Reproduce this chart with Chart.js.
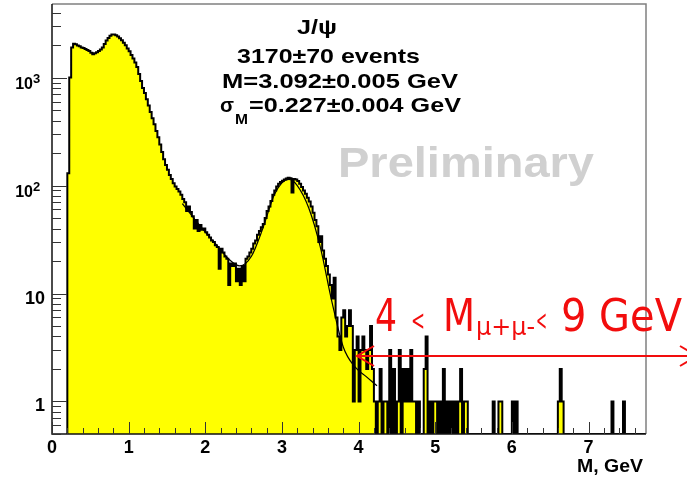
<!DOCTYPE html>
<html>
<head>
<meta charset="utf-8">
<script src="https://cdn.jsdelivr.net/npm/chart.js@4.4.0/dist/chart.umd.min.js"></script>
<style>
  html, body { margin: 0; padding: 0; background: #fff; }
  #wrap { width: 687px; height: 480px; position: relative; }
</style>
</head>
<body>
<div id="wrap"><canvas id="massChart"></canvas></div>
<script>
// binning of the dimuon mass histogram, GeV
const BIN_LO = 0.2;
const BIN_W = 0.025;
const X_MIN = 0, X_MAX = 7.75;
const Y_MIN = 0.5, Y_MAX = 4800;

// entries per bin (20 bins = 0.5 GeV per row)
const counts_0p2 = [130, 1000, 1900, 2060, 2040, 1980, 1950, 1900, 1880, 1840, 1800, 1760, 1700, 1640, 1680, 1720, 1760, 1820, 1900, 2050];
const counts_0p7 = [2200, 2330, 2440, 2500, 2500, 2470, 2400, 2310, 2220, 2100, 1990, 1860, 1750, 1620, 1500, 1380, 1250, 1080, 930, 800];
const counts_1p2 = [720, 630, 550, 480, 420, 370, 320, 280, 240, 205, 175, 155, 140, 125, 115, 105, 98, 93, 88, 82];
const counts_1p7 = [75, 70, 58, 64, 57, 52, 40, 48, 38, 43, 39, 40, 37, 35, 33, 31, 30, 28, 27, 17];
const counts_2p2 = [26, 24, 22, 21, 12, 19, 18, 19, 13, 17, 12, 18, 13, 21, 22, 24, 26, 29, 31, 35];
const counts_2p7 = [38, 41, 44, 50, 58, 64, 72, 82, 90, 98, 104, 108, 111, 114, 116, 118, 117, 86, 115, 114];
const counts_3p2 = [110, 104, 97, 90, 84, 77, 71, 64, 56, 48, 42, 30, 34, 25, 21, 18, 15, 12, 9, 14];
const counts_3p7 = [6, 4, 3, 6, 7, 4, 5, 7, 5, 1, 3, 4, 1, 3, 4, 3, 2, 3, 5, 2];
const counts_4p2 = [1, 0, 1, 2, 0, 1, 1, 0, 3, 0, 2, 0, 1, 3, 0, 2, 1, 2, 1, 3];
const counts_4p7 = [1, 1, 0, 1, 0, 0, 2, 4, 0, 1, 0, 1, 1, 0, 1, 0, 2, 0, 1, 0];
const counts_5p2 = [1, 0, 1, 0, 1, 2, 0, 1, 1, 0, 0, 0, 0, 0, 0, 0, 0, 0, 0, 0];
const counts_5p7 = [0, 0, 1, 0, 0, 1, 1, 0, 0, 0, 0, 0, 1, 0, 1, 0, 0, 0, 0, 0];
const counts_6p2 = [0, 0, 0, 0, 0, 0, 0, 0, 0, 0, 0, 0, 0, 0, 0, 0, 1, 2, 1, 0];
const counts_6p7 = [0, 0, 0, 0, 0, 0, 0, 0, 0, 0, 0, 0, 0, 0, 0, 0, 0, 0, 0, 0];
const counts_7p2 = [0, 0, 0, 0, 1, 0, 0, 0, 0, 0, 1, 0, 0, 0, 0, 0, 0, 0, 0, 0, 0, 0];

const counts = [].concat(counts_0p2, counts_0p7, counts_1p2, counts_1p7, counts_2p2,
    counts_2p7, counts_3p2, counts_3p7, counts_4p2, counts_4p7, counts_5p2,
    counts_5p7, counts_6p2, counts_6p7, counts_7p2);

// fitted curve (gaussian + background), sampled from the plot
const fitMass = [1.7, 1.85, 2.0, 2.15, 2.3, 2.45, 2.6, 2.75, 2.9, 3.0, 3.09, 3.2, 3.35, 3.5, 3.65, 3.8, 3.95, 4.1, 4.24];
const fitValue = [68, 50, 37, 28, 21, 18, 22, 40, 82, 106, 114, 100, 62, 27, 8.5, 3.2, 2.1, 1.7, 1.4];

// axis labels
const xTickValues = [0, 1, 2, 3, 4, 5, 6, 7];
const xTickLabels = ['0', '1', '2', '3', '4', '5', '6', '7'];
const yTickValues = [1, 10, 100, 1000];
const yTickBase = ['1', '10', '10', '10'];
const yTickExp = ['', '', '2', '3'];

const histPoints = [{ x: BIN_LO, y: Y_MIN }];
counts.forEach((c, i) => {
    histPoints.push({ x: BIN_LO + i * BIN_W, y: c > 0 ? c : Y_MIN });
});
histPoints.push({ x: BIN_LO + counts.length * BIN_W, y: Y_MIN });

const fitPoints = fitMass.map((m, i) => ({ x: m, y: fitValue[i] }));

const FONT = '"Liberation Sans", Arial, Helvetica, sans-serif';
const RED = '#f20d0d';

// draw text squeezed/stretched to a given width
function fitText(ctx, text, x, y, font, width) {
    ctx.font = font;
    const w = ctx.measureText(text).width;
    ctx.save();
    ctx.translate(x, y);
    ctx.scale(width / w, 1);
    ctx.textAlign = 'left';
    ctx.fillText(text, 0, 0);
    ctx.restore();
}

// ROOT style frame, inward ticks, labels and annotations
const rootFrame = {
    id: 'rootFrame',
    afterDraw(chart) {
        const { ctx, chartArea: a } = chart;
        const xs = chart.scales.x, ys = chart.scales.y;
        ctx.save();

        // frame
        ctx.lineWidth = 1.5;
        ctx.strokeStyle = '#808080';
        ctx.beginPath();
        ctx.moveTo(a.left, a.top);
        ctx.lineTo(a.right, a.top);
        ctx.lineTo(a.right, a.bottom);
        ctx.stroke();
        ctx.strokeStyle = '#111';
        ctx.beginPath();
        ctx.moveTo(a.left, a.top);
        ctx.lineTo(a.left, a.bottom);
        ctx.lineTo(a.right, a.bottom);
        ctx.stroke();

        // x ticks every 0.2 GeV
        ctx.lineWidth = 1;
        ctx.strokeStyle = '#333';
        ctx.beginPath();
        for (let k = 0; k * 0.2 <= X_MAX + 1e-9; k++) {
            const px = Math.round(xs.getPixelForValue(k * 0.2)) + 0.5;
            const len = k % 5 === 0 ? 12 : 6;
            ctx.moveTo(px, a.bottom);
            ctx.lineTo(px, a.bottom - len);
        }
        // y ticks, log
        for (let d = -1; d <= 3; d++) {
            for (let m = 1; m <= 9; m++) {
                const v = m * Math.pow(10, d);
                if (v < Y_MIN || v > Y_MAX) continue;
                const py = Math.round(ys.getPixelForValue(v)) + 0.5;
                const len = m === 1 ? 15 : 9;
                ctx.moveTo(a.left, py);
                ctx.lineTo(a.left + len, py);
            }
        }
        ctx.stroke();

        // x labels
        ctx.fillStyle = '#000';
        ctx.textBaseline = 'alphabetic';
        ctx.textAlign = 'center';
        ctx.font = 'bold 18px ' + FONT;
        xTickValues.forEach((v, i) => {
            ctx.fillText(xTickLabels[i], xs.getPixelForValue(v), a.bottom + 19);
        });

        // y labels
        yTickValues.forEach((v, i) => {
            const py = ys.getPixelForValue(v);
            if (yTickExp[i]) {
                ctx.textAlign = 'right';
                ctx.font = 'bold 16px ' + FONT;
                ctx.fillText(yTickBase[i], 33, py + 11.5);
                ctx.textAlign = 'left';
                ctx.font = 'bold 13px ' + FONT;
                ctx.fillText(yTickExp[i], 33, py + 5);
            } else {
                ctx.textAlign = 'right';
                ctx.font = 'bold 18px ' + FONT;
                ctx.fillText(yTickBase[i], 45, py + 10);
            }
        });

        // axis title
        fitText(ctx, 'M, GeV', 577, 472, 'bold 18px ' + FONT, 66);

        // fit results
        const sf = 'bold 21px ' + FONT;
        fitText(ctx, 'J/\u03c8', 297, 34, sf, 40);
        fitText(ctx, '3170\u00b170 events', 237, 63, sf, 183);
        fitText(ctx, 'M=3.092\u00b10.005 GeV', 222, 88, sf, 236);
        fitText(ctx, '\u03c3', 220, 112, sf, 14);
        fitText(ctx, 'M', 235, 124, 'bold 14px ' + FONT, 13);
        fitText(ctx, '=0.227\u00b10.004 GeV', 249, 112, sf, 212);

        ctx.fillStyle = '#d0d0d0';
        fitText(ctx, 'Preliminary', 338, 177, 'bold 42px ' + FONT, 256);

        // mass window annotation
        const rf = '"DejaVu Sans", sans-serif';
        ctx.fillStyle = RED;
        fitText(ctx, '4', 375, 331, '44px ' + rf, 22);
        fitText(ctx, '<', 411, 330, '28px ' + rf, 14);
        fitText(ctx, 'M', 443, 331, '44px ' + rf, 32);
        fitText(ctx, '\u03bc+\u03bc-', 476, 335, '24px ' + rf, 59);
        fitText(ctx, '<', 536, 330, '28px ' + rf, 11);
        fitText(ctx, '9 GeV', 561, 331, '44px ' + rf, 121);

        ctx.strokeStyle = RED;
        ctx.lineWidth = 2;
        ctx.beginPath();
        ctx.moveTo(357, 356);
        ctx.lineTo(700, 356);
        ctx.moveTo(374, 346);
        ctx.lineTo(357, 356);
        ctx.lineTo(374, 366);
        ctx.moveTo(680, 346);
        ctx.lineTo(697, 356);
        ctx.lineTo(680, 366);
        ctx.stroke();

        ctx.restore();
    }
};

const ctx = document.getElementById('massChart').getContext('2d');
new Chart(ctx, {
    type: 'line',
    data: {
        datasets: [
            {
                label: 'fit',
                data: fitPoints,
                borderColor: '#000',
                borderWidth: 1.2,
                pointRadius: 0,
                fill: false,
                cubicInterpolationMode: 'monotone',
                order: 0
            },
            {
                label: 'M(mu+mu-)',
                data: histPoints,
                stepped: true,
                borderColor: '#000',
                borderWidth: 2,
                backgroundColor: '#ffff00',
                fill: 'start',
                pointRadius: 0,
                order: 1
            }
        ]
    },
    options: {
        responsive: true,
        maintainAspectRatio: false,
        animation: false,
        events: [],
        layout: {
            padding: { top: 4, right: 41, left: 0, bottom: 0 }
        },
        scales: {
            x: {
                type: 'linear',
                min: X_MIN,
                max: X_MAX,
                bounds: 'data',
                grid: { display: false },
                border: { display: false },
                ticks: { display: false },
                afterFit(scale) { scale.height = 46; }
            },
            y: {
                type: 'logarithmic',
                min: Y_MIN,
                max: Y_MAX,
                bounds: 'data',
                grid: { display: false },
                border: { display: false },
                ticks: { display: false },
                afterFit(scale) { scale.width = 52; }
            }
        },
        plugins: {
            legend: { display: false },
            tooltip: { enabled: false },
            title: { display: false }
        }
    },
    plugins: [rootFrame]
});
</script>
</body>
</html>
